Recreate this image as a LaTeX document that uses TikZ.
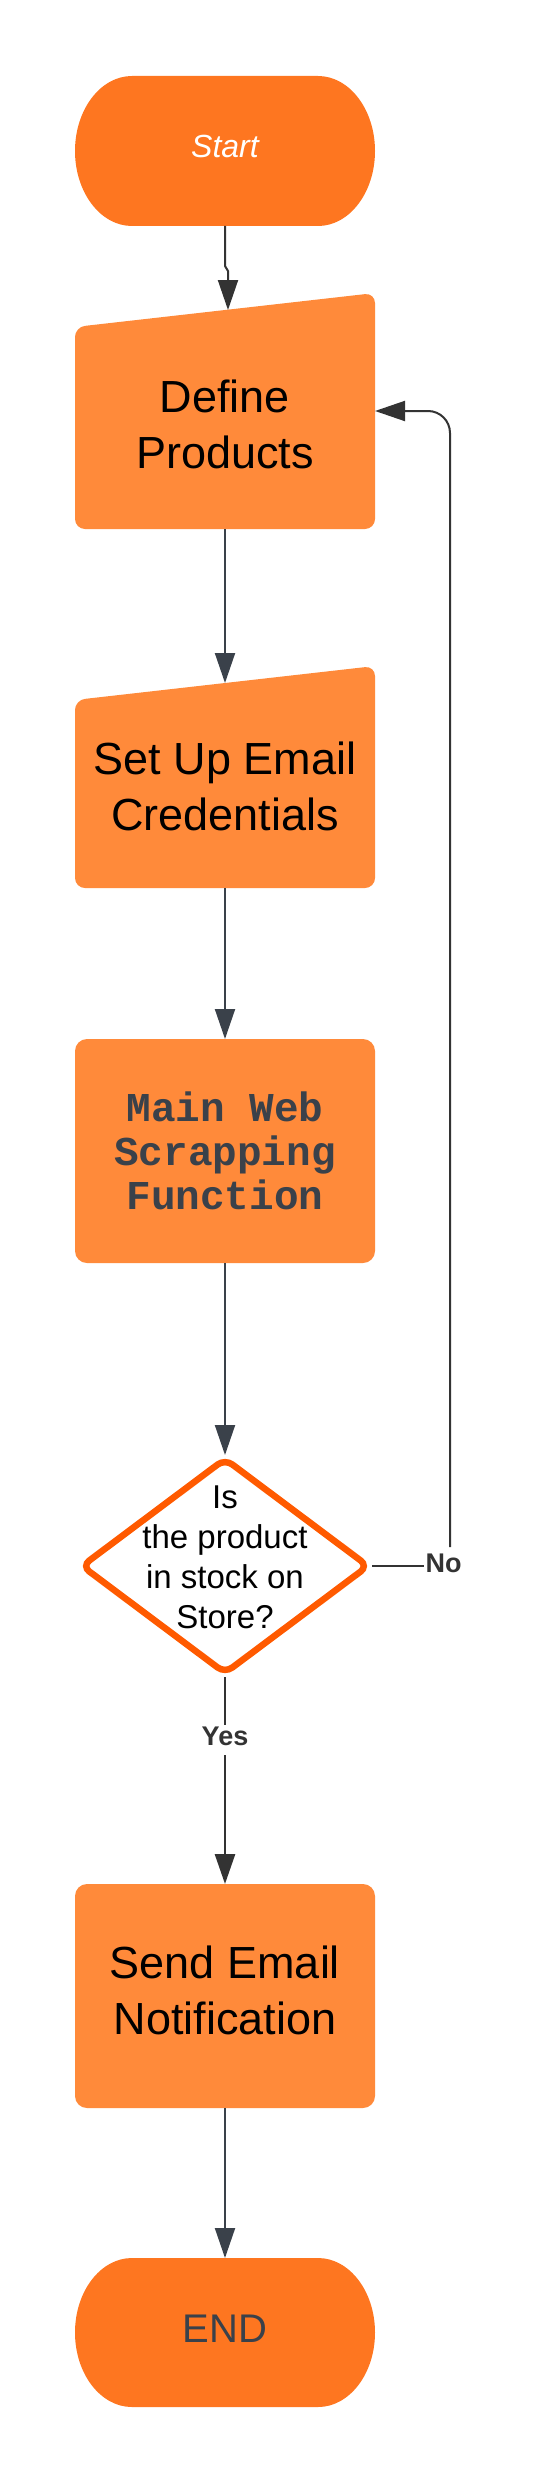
\documentclass[tikz,border=0pt]{standalone}
\usepackage{fontspec}
\setmainfont{Liberation Sans}
\newfontfamily\monob{Liberation Mono}
\usetikzlibrary{arrows.meta,calc}
\definecolor{termC}{HTML}{FE7620}
\definecolor{procC}{HTML}{FF8A3A}
\definecolor{decC}{HTML}{FF5A00}
\definecolor{lineC}{HTML}{3A414A}
\definecolor{darkC}{HTML}{333333}
\begin{document}
\begin{tikzpicture}[x=1pt,y=-1pt,
  frame/.style={draw=none, minimum width=300pt, inner sep=0pt, outer sep=0pt},
  proc/.style={fill=procC, rounded corners=12pt, minimum width=300pt, minimum height=224pt, inner sep=0pt, outer sep=0pt, align=center},
  conn/.style={draw=lineC, line width=2pt, -{Triangle[length=30pt,width=20pt]}},
  plain/.style={draw=lineC, line width=2pt},
  lbl/.style={font=\fontsize{27}{30}\selectfont\bfseries, text=darkC, inner sep=1pt},
  txt/.style={align=center, font=\fontsize{45}{56}\selectfont, inner sep=0pt}]
\useasboundingbox (0,0) rectangle (538,2483);

% Start terminal
\node[frame, minimum height=150pt] (start) at (225,151) {};
\fill[termC] (132,76) -- (318,76) arc[start angle=-90,end angle=90,x radius=57,y radius=75]
  -- (132,226) arc[start angle=90,end angle=270,x radius=57,y radius=75] -- cycle;
\node[anchor=base, font=\fontsize{32}{38}\selectfont\itshape, text=white] (startT) at (225,158) {Start};

% Define Products (manual input)
\node[frame, minimum height=236pt] (define) at (225,411) {};
\fill[procC, rounded corners=10pt] (define.south west) -- (75,327) -- (define.north east) -- (define.south east) -- cycle;
\node[txt] (defineT) at (225,424) {Define\\Products};
\coordinate (defIn) at (228,310);

% Set Up Email Credentials (manual input)
\node[frame, minimum height=222pt] (setup) at (225,777) {};
\fill[procC, rounded corners=10pt] (setup.south west) -- (75,700) -- (setup.north east) -- (setup.south east) -- cycle;
\node[txt] (setupT) at (225,786) {Set Up Email\\Credentials};
\coordinate (setIn) at (225,683);

% Main Web Scrapping Function
\node[proc, font=\fontsize{41}{44}\monob\bfseries, text=lineC] (main) at (225,1151) {Main Web\\Scrapping\\Function};

% Decision
\node[frame, minimum width=294pt, minimum height=222pt] (dec) at (225,1566) {};
\draw[decC, line width=6.5pt, fill=white, rounded corners=9pt] (225,1459) -- (368,1566) -- (225,1673) -- (82,1566) -- cycle;
\node[align=center, font=\fontsize{33}{40}\selectfont, inner sep=0pt] (decT) at (225,1557) {Is\\the product\\in stock on\\Store?};

% Send Email Notification
\node[proc] (send) at (225,1996) {};
\node[txt] (sendT) at (225,1990) {Send Email\\Notification};

% END terminal
\node[frame, minimum height=149pt] (end) at (225,2332.5) {};
\fill[termC] (132,2258) -- (318,2258) arc[start angle=-90,end angle=90,x radius=57,y radius=74.5]
  -- (132,2407) arc[start angle=90,end angle=270,x radius=57,y radius=74.5] -- cycle;
\node[anchor=base, font=\fontsize{40}{48}\selectfont, text=lineC] (endT) at (225,2342) {END};

% Labels
\node[lbl, anchor=base, text depth=9pt] (yes) at (225,1745) {Yes};
\node[lbl, anchor=base] (no) at (443.5,1572) {No};
\coordinate (noTop) at (450,1547);

% Connectors
\draw[conn, draw=darkC] (start.south) -- (225,266) -- (228,271) -- (defIn);
\draw[conn] (define.south) -- (setIn);
\draw[conn] (setup.south) -- (main.north);
\draw[conn] (main.south) -- (dec.north);
\draw[plain, draw=darkC, line width=2.7pt] (dec.south) -- (yes.north);
\draw[conn, draw=darkC, line width=2.7pt] (yes.south) -- (send.north);
\draw[conn] (send.south) -- (end.north);
\draw[plain, draw=darkC] (dec.east) -- (dec.east -| no.west);
\draw[conn, draw=darkC, rounded corners=22pt] (noTop) -- (450,411) -- (define.east);
\end{tikzpicture}
\end{document}
